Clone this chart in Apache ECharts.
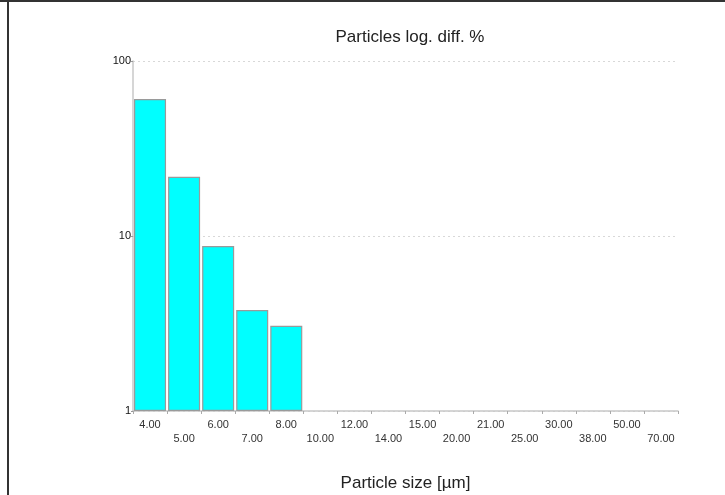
<!DOCTYPE html>
<html>
<head>
<meta charset="utf-8">
<style>
  html, body { margin: 0; padding: 0; background: #fff; }
  #chart { width: 725px; height: 495px; }
</style>
<script src="https://cdn.jsdelivr.net/npm/echarts@6/dist/echarts.min.js"></script>
</head>
<body>
<div id="chart"></div>
<script>
// Size classes (µm) along the x axis
const sizeClasses = ['4.00', '5.00', '6.00', '7.00', '8.00', '10.00', '12.00', '14.00',
                     '15.00', '20.00', '21.00', '25.00', '30.00', '38.00', '50.00', '70.00'];
// Logarithmic differential particle share (%) per size class
const particlePercent = [60.6, 21.8, 8.77, 3.78, 3.07, null, null, null,
                         null, null, null, null, null, null, null, null];
// Y axis range (log scale)
const yMin = 1;
const yMax = 100;

const chart = echarts.init(document.getElementById('chart'), null, { renderer: 'canvas' });

chart.setOption({
  animation: false,
  backgroundColor: '#ffffff',
  textStyle: { fontFamily: 'Liberation Sans, Arial, sans-serif' },
  title: {
    text: 'Particles log. diff. %',
    left: 405,
    top: 24,
    textAlign: 'center',
    textStyle: { fontSize: 17, fontWeight: 'normal', color: '#222', fontFamily: 'Liberation Sans, Arial, sans-serif' }
  },
  grid: { left: 133, right: 47, top: 61, bottom: 84, containLabel: false, outerBoundsMode: 'none' },
  xAxis: {
    type: 'category',
    data: sizeClasses,
    name: 'Particle size [µm]',
    nameLocation: 'middle',
    nameGap: 64,
    nameTextStyle: { fontSize: 17, color: '#222', fontFamily: 'Liberation Sans, Arial, sans-serif' },
    axisLine: { lineStyle: { color: '#c8c8c8', width: 1.5 } },
    axisTick: { show: true, interval: 0, length: 3, lineStyle: { color: '#aaa' } },
    axisLabel: {
      interval: 0,
      margin: 7,
      fontSize: 11,
      color: '#333',
      lineHeight: 14,
      formatter: (value, index) => (index % 2 === 1 ? '\n' + value : value)
    },
    splitLine: { show: false }
  },
  yAxis: {
    type: 'log',
    logBase: 10,
    min: yMin,
    max: yMax,
    axisLine: { show: true, lineStyle: { color: '#c8c8c8', width: 1.5 } },
    axisTick: { show: true, length: 2, lineStyle: { color: '#999' } },
    axisLabel: { fontSize: 11, color: '#111', margin: 2 },
    splitLine: { show: true, lineStyle: { color: '#d8d8d8', type: [2, 3], width: 1 } }
  },
  series: [{
    type: 'bar',
    data: particlePercent,
    barCategoryGap: '6%',
    itemStyle: { color: '#00ffff', borderColor: '#9a9a9a', borderWidth: 1.2 }
  }],
  graphic: [
    { type: 'line', shape: { x1: 8, y1: 0, x2: 8, y2: 495 }, style: { stroke: '#333', lineWidth: 2 } },
    { type: 'line', shape: { x1: 0, y1: 1, x2: 725, y2: 1 }, style: { stroke: '#333', lineWidth: 2 } }
  ]
});
</script>
</body>
</html>
